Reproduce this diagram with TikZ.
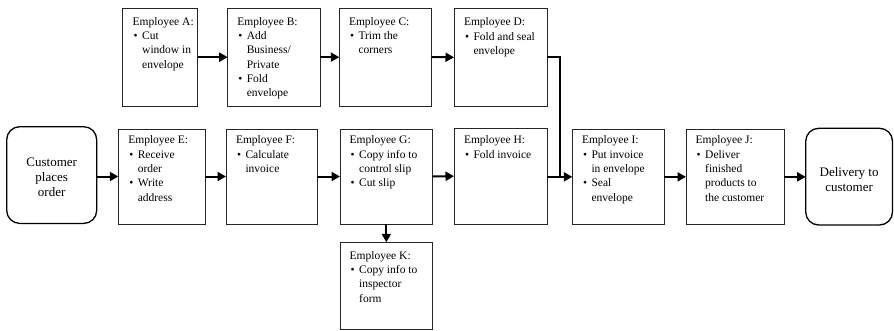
\documentclass[tikz,border=0pt]{standalone}
\usepackage{fontspec}
\setmainfont{Liberation Serif}
\usetikzlibrary{arrows.meta,calc}

\newcommand{\bul}[1]{\par\hangindent=9.5pt\hangafter=1\noindent\makebox[9.5pt][l]{\hspace{1pt}\textbullet}#1}
\newcommand{\boxtext}[2]{\parbox[t]{100pt}{\fontsize{11.5pt}{14.3pt}\selectfont\noindent #1#2}}

\tikzset{
  box/.style={draw=black!85, line width=0.8pt, inner sep=0pt, outer sep=0pt, anchor=north west, fill=white},
  endbox/.style={draw=black, line width=1.3pt, rounded corners=13pt, inner sep=0pt, outer sep=0pt, anchor=north west, fill=white},
  txt/.style={inner sep=0pt, outer sep=0pt, anchor=base west},
  endtxt/.style={inner sep=0pt, align=center, font=\fontsize{13pt}{15pt}\selectfont},
  flow/.style={line width=2pt, -{Triangle[length=8.5pt,width=9pt]}},
  plain/.style={line width=2pt}
}

\begin{document}
\begin{tikzpicture}[x=1pt,y=-1pt]
\useasboundingbox (0,0) rectangle (894,330);

% top row
\node[box, minimum width=75pt,   minimum height=97.7pt] (A) at (122.7,8.3) {};
\node[box, minimum width=92.6pt, minimum height=97.7pt] (B) at (227.7,8.3) {};
\node[box, minimum width=92.4pt, minimum height=97.7pt] (C) at (339.3,8.3) {};
\node[box, minimum width=93.3pt, minimum height=98pt]   (D) at (454,8.3) {};

% middle row
\node[endbox, minimum width=90pt, minimum height=96.7pt] (cust) at (6.7,126.7) {};
\node[box, minimum width=86.7pt, minimum height=95pt]   (E) at (118.3,129) {};
\node[box, minimum width=91.3pt, minimum height=95pt]   (F) at (226,129) {};
\node[box, minimum width=92.7pt, minimum height=95pt]   (G) at (340,129) {};
\node[box, minimum width=93.3pt, minimum height=95.7pt] (H) at (454,128.3) {};
\node[box, minimum width=92pt,   minimum height=95.7pt] (I) at (572.3,129) {};
\node[box, minimum width=98pt,   minimum height=95.7pt] (J) at (686,129) {};
\node[endbox, minimum width=86.8pt, minimum height=96.7pt] (deliv) at (805.7,128.3) {};

% bottom
\node[box, minimum width=92.7pt, minimum height=87pt] (K) at (340,242.3) {};

% texts
\node[txt] (A-t) at ($(A.north west)+(10,17)$) {\boxtext{Employee A:}{\bul{Cut\\window in\\envelope}}};
\node[txt] (B-t) at ($(B.north west)+(9.6,17)$) {\boxtext{Employee B:}{\bul{Add\\Business/\\Private}\bul{Fold\\envelope}}};
\node[txt] (C-t) at ($(C.north west)+(9.7,17)$) {\boxtext{Employee C:}{\bul{Trim the\\corners}}};
\node[txt] (D-t) at ($(D.north west)+(10,17.5)$) {\boxtext{Employee D:}{\bul{Fold and seal\\envelope}}};

\node[txt] (E-t) at ($(E.north west)+(10,14.8)$) {\boxtext{Employee E:}{\bul{Receive\\order}\bul{Write\\address}}};
\node[txt] (F-t) at ($(F.north west)+(10,14.8)$) {\boxtext{Employee F:}{\bul{Calculate\\invoice}}};
\node[txt] (G-t) at ($(G.north west)+(9.7,14.8)$) {\boxtext{Employee G:}{\bul{Copy info to\\control slip}\bul{Cut slip}}};
\node[txt] (H-t) at ($(H.north west)+(10,15.5)$) {\boxtext{Employee H:}{\bul{Fold invoice}}};
\node[txt] (I-t) at ($(I.north west)+(9.7,14.8)$) {\boxtext{Employee I:}{\bul{Put invoice\\in envelope}\bul{Seal\\envelope}}};
\node[txt] (J-t) at ($(J.north west)+(9.7,14.8)$) {\boxtext{Employee J:}{\bul{Deliver\\finished\\products to\\the customer}}};
\node[txt] (K-t) at ($(K.north west)+(9.7,17)$) {\boxtext{Employee K:}{\bul{Copy info to\\inspector\\form}}};

\node[endtxt] (cust-t) at ($(cust.center)+(0,2.5)$) {Customer\\places\\order};
\node[endtxt] (deliv-t) at ($(deliv.center)+(0,3)$) {Delivery to\\customer};

% connectors
\draw[flow] (A.east) -- (B.west);
\draw[flow] (B.east) -- (C.west);
\draw[flow] (C.east) -- (D.west);

\draw[flow] (E.west -| cust.east) -- (E.west);
\draw[flow] (E.east) -- (F.west);
\draw[flow] (F.east) -- (G.west);
\draw[flow] (G.east) -- (H.west);
\draw[flow] (I.west -| H.east) -- (I.west);
\draw[flow] (I.east) -- (J.west);
\draw[flow] (J.east) -- (J.east -| deliv.west);
\draw[flow] (G.south) -- (K.north);

\coordinate (join) at ($(H.east)!0.5!(I.west)$);
\draw[plain] (D.east) -| (join |- I.west);
\end{tikzpicture}
\end{document}
